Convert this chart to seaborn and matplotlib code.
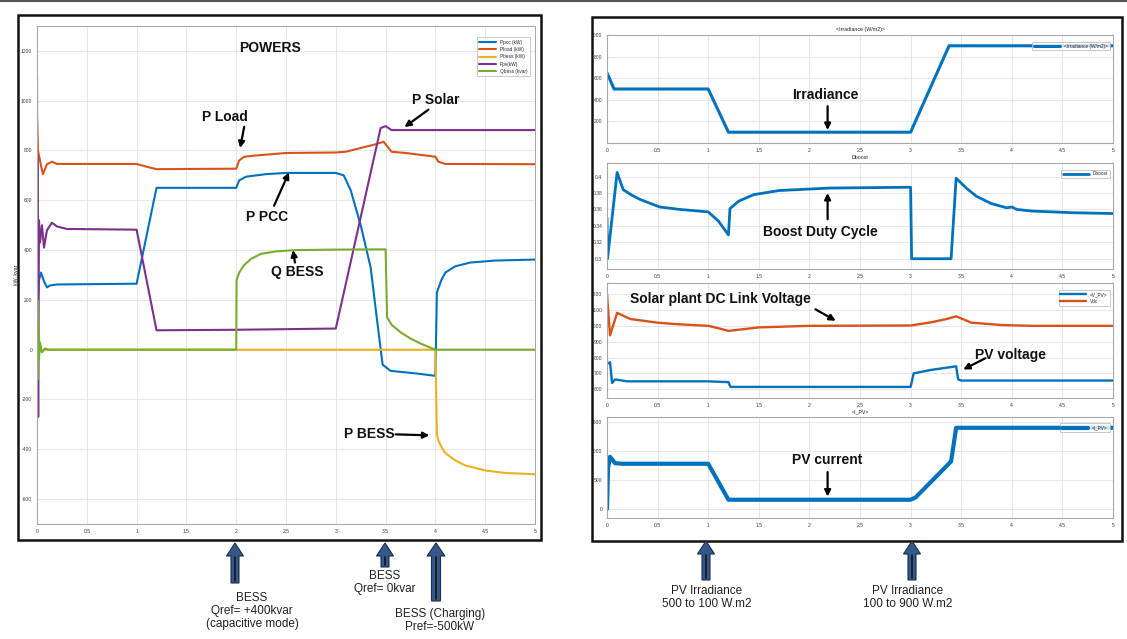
import numpy as np
import pandas as pd
import matplotlib
matplotlib.use("Agg")
import matplotlib.pyplot as plt
import seaborn as sns
from matplotlib.patches import Rectangle, FancyArrow

# ---------------- data: left panel (POWERS) ----------------
t_pcc = [0, 0.004, 0.01, 0.02, 0.04, 0.07, 0.1, 0.13, 0.2, 1.0, 1.2, 2.0, 2.03, 2.1, 2.3, 2.5, 3.0, 3.08,
         3.15, 3.25, 3.35, 3.42, 3.47, 3.55, 3.8, 4.0, 4.015, 4.06, 4.1, 4.2, 4.35, 4.6, 5.0]
p_pcc = [1100, 300, 200, 280, 310, 275, 250, 258, 262, 265, 650, 650, 680, 695, 705, 710, 710, 700,
         640, 500, 330, 100, -60, -85, -95, -105, 230, 280, 310, 335, 350, 358, 362]

t_load = [0, 0.01, 0.04, 0.06, 0.1, 0.15, 0.2, 1.0, 1.1, 1.2, 2.0, 2.03, 2.08, 2.2, 2.5, 3.0, 3.1, 3.2, 3.3,
          3.4, 3.48, 3.52, 3.56, 3.7, 3.9, 4.0, 4.03, 4.1, 5.0]
p_load = [930, 800, 740, 705, 745, 755, 746, 746, 735, 725, 727, 760, 775, 780, 790, 792, 795, 805, 815,
          825, 835, 815, 795, 790, 780, 775, 755, 746, 745]

t_bess = [0, 0.005, 0.01, 0.02, 0.04, 0.08, 4.0, 4.015, 4.03, 4.06, 4.1, 4.2, 4.3, 4.5, 4.7, 5.0]
p_bess = [0, 80, -40, 20, -8, 0, 0, -340, -365, -390, -415, -445, -465, -485, -495, -500]

t_pv = [0, 0.004, 0.012, 0.02, 0.03, 0.05, 0.07, 0.1, 0.15, 0.2, 0.3, 1.0, 1.2, 2.0, 3.0, 3.45, 3.5, 3.56,
        4.0, 5.0]
p_pv = [0, 780, -270, 520, 430, 500, 410, 480, 510, 495, 485, 482, 78, 80, 85, 890, 898, 882, 882, 882]

t_qbess = [0, 0.005, 0.01, 0.015, 0.02, 0.03, 0.05, 0.08, 0.12, 2.0, 2.004, 2.03, 2.08, 2.15, 2.25, 2.4,
           2.6, 3.0, 3.5, 3.515, 3.56, 3.65, 3.75, 3.85, 3.95, 4.0, 5.0]
q_bess = [0, 200, -120, 100, -40, 30, -10, 5, 0, 0, 280, 310, 340, 365, 385, 395, 400, 402, 403, 130,
          100, 70, 45, 25, 8, 0, 0]

power_labels = ["Ppcc (kW)", "Pload (kW)", "Pbess (kW)", "Ppv(kW)", "Qbess (kvar)"]

# ---------------- data: right panels ----------------
t_irr = [0, 0.07, 1.0, 1.2, 3.0, 3.38, 5.0]
irr = [650, 500, 500, 100, 100, 900, 900]

t_dboost = [0, 0.005, 0.1, 0.16, 0.25, 0.33, 0.52, 0.72, 1.0, 1.1, 1.2, 1.215, 1.3, 1.45, 1.7, 2.2, 3.0,
            3.01, 3.4, 3.45, 3.55, 3.65, 3.8, 3.95, 4.0, 4.05, 4.2, 4.6, 5.0]
dboost = [0.35, 0.30, 0.405, 0.384, 0.377, 0.372, 0.363, 0.360, 0.357, 0.346, 0.329, 0.361, 0.370,
          0.378, 0.383, 0.386, 0.387, 0.300, 0.300, 0.398, 0.386, 0.376, 0.367, 0.362, 0.363, 0.360,
          0.358, 0.356, 0.355]

t_vpv = [0, 0.03, 0.05, 0.08, 0.2, 1.0, 1.2, 1.22, 3.0, 3.03, 3.2, 3.4, 3.45, 3.47, 3.5, 5.0]
vpv = [760, 770, 640, 662, 650, 650, 645, 615, 615, 700, 722, 740, 745, 662, 655, 655]

t_vdc = [0, 0.03, 0.1, 0.23, 0.5, 0.7, 1.0, 1.1, 1.2, 1.5, 2.0, 3.0, 3.2, 3.35, 3.45, 3.6, 3.9, 4.2, 5.0]
vdc = [1200, 940, 1082, 1043, 1020, 1010, 1000, 985, 968, 990, 1000, 1002, 1022, 1042, 1060, 1020, 1005,
       1000, 1000]

t_ipv = [0, 0.01, 0.03, 0.08, 0.15, 1.0, 1.2, 3.0, 3.05, 3.4, 3.45, 5.0]
ipv = [0, 700, 900, 790, 780, 780, 160, 160, 200, 820, 1400, 1400]

x_ticks = [0, 0.5, 1, 1.5, 2, 2.5, 3, 3.5, 4, 4.5, 5]

# ---------------- style ----------------
sns.set_style("whitegrid")
plt.rcParams['font.family'] = ['Liberation Sans', 'DejaVu Sans']

W, H = 1127, 639
fig = plt.figure(figsize=(W / 100, H / 100), dpi=100)


def px_axes(x0, y0, x1, y1):
    return fig.add_axes([x0 / W, 1 - y1 / H, (x1 - x0) / W, (y1 - y0) / H])


def style(ax, ylim, yticks):
    ax.set_xlim(0, 5)
    ax.set_ylim(*ylim)
    ax.set_xticks(x_ticks)
    ax.set_xticklabels(["%g" % v for v in x_ticks])
    ax.set_yticks(yticks)
    ax.set_yticklabels(["%g" % v for v in yticks])
    ax.grid(True, color='#e3e3e3', lw=0.6)
    ax.set_facecolor('white')
    for s in ax.spines.values():
        s.set_color('#a8a8a8')
        s.set_linewidth(0.8)
    ax.tick_params(direction='out', length=2, width=0.5, labelsize=3.6, colors='#a0a0a0',
                   labelcolor='#3a3a3a', pad=1.5)
    ax.set_xlabel('')
    ax.set_ylabel('')


def line(ax, t, v, color, lw, label):
    sns.lineplot(x=t, y=v, ax=ax, color=color, linewidth=lw, label=label, estimator=None, sort=False)


BLUE, ORANGE, YELLOW, PURPLE, GREEN = '#0072BD', '#D95319', '#EDB120', '#7E2F8E', '#77AC30'
bold = dict(fontsize=10, fontweight='bold', color='#111111', ha='center', va='center')
arr = dict(arrowstyle='-|>', color='black', lw=1.6, mutation_scale=9, shrinkA=0, shrinkB=0)

# ---------------- left panel ----------------
ax = px_axes(37, 26, 535, 524)
line(ax, t_pcc, p_pcc, BLUE, 1.5, power_labels[0])
line(ax, t_load, p_load, ORANGE, 1.5, power_labels[1])
line(ax, t_bess, p_bess, YELLOW, 1.5, power_labels[2])
line(ax, t_pv, p_pv, PURPLE, 1.5, power_labels[3])
line(ax, t_qbess, q_bess, GREEN, 1.5, power_labels[4])
style(ax, (-700, 1300), [-600, -400, -200, 0, 200, 400, 600, 800, 1000, 1200])
ax.set_ylabel("kW, kvar", fontsize=3.8, labelpad=2)
leg = ax.legend(loc='upper right', bbox_to_anchor=(0.994, 0.982), fontsize=3.4, frameon=True,
                handlelength=3.5, borderpad=0.5, labelspacing=0.5, fancybox=False)
leg.get_frame().set_edgecolor('#b0b0b0')
leg.get_frame().set_linewidth(0.6)

ax.text(2.34, 1212, "POWERS", **bold)
ax.text(1.89, 936, "P Load", **bold)
ax.annotate("", xy=(2.04, 810), xytext=(2.08, 895), arrowprops=arr)
ax.text(4.0, 1004, "P Solar", **bold)
ax.annotate("", xy=(3.69, 894), xytext=(3.93, 964), arrowprops=arr)
ax.text(2.31, 532, "P PCC", **bold)
ax.annotate("", xy=(2.53, 712), xytext=(2.38, 578), arrowprops=arr)
ax.text(2.61, 312, "Q BESS", **bold)
ax.annotate("", xy=(2.57, 400), xytext=(2.59, 350), arrowprops=arr)
ax.text(3.34, -340, "P BESS", **bold)
ax.annotate("", xy=(3.94, -344), xytext=(3.6, -340), arrowprops=arr)

# ---------------- right panels ----------------
ax1 = px_axes(607, 35, 1113, 143)
line(ax1, t_irr, irr, BLUE, 2.2, "<Irradiance (W/m2)>")
style(ax1, (0, 1000), [200, 400, 600, 800, 1000])
ax1.set_title("<Irradiance (W/m2)>", fontsize=3.8, pad=3, color='#222222')
ax1.text(2.16, 442, "Irradiance", **bold)
ax1.annotate("", xy=(2.18, 120), xytext=(2.18, 340), arrowprops=arr)

ax2 = px_axes(607, 163, 1113, 269)
line(ax2, t_dboost, dboost, BLUE, 2.0, "Dboost")
style(ax2, (0.2875, 0.4165), [0.3, 0.32, 0.34, 0.36, 0.38, 0.4])
ax2.set_title("Dboost", fontsize=3.8, pad=3, color='#222222')
ax2.text(2.11, 0.3325, "Boost Duty Cycle", **bold)
ax2.annotate("", xy=(2.18, 0.380), xytext=(2.18, 0.348), arrowprops=arr)

ax3 = px_axes(607, 283, 1113, 398)
line(ax3, t_vpv, vpv, BLUE, 1.7, "<V_PV>")
line(ax3, t_vdc, vdc, ORANGE, 1.7, "Vdc")
style(ax3, (545, 1270), [600, 700, 800, 900, 1000, 1100, 1200])
ax3.text(1.12, 1167, "Solar plant DC Link Voltage", **bold)
ax3.annotate("", xy=(2.26, 1032), xytext=(2.06, 1104), arrowprops=arr)
ax3.text(3.99, 815, "PV voltage", **bold)
ax3.annotate("", xy=(3.52, 725), xytext=(3.74, 796), arrowprops=arr)

ax4 = px_axes(607, 417, 1113, 518)
line(ax4, t_ipv, ipv, BLUE, 3.0, "<I_PV>")
style(ax4, (-155, 1586), [0, 500, 1000, 1500])
ax4.set_title("<I_PV>", fontsize=3.8, pad=3, color='#222222')
ax4.text(2.18, 841, "PV current", **bold)
ax4.annotate("", xy=(2.18, 215), xytext=(2.18, 636), arrowprops=arr)

for a in (ax1, ax2, ax3, ax4):
    lg = a.legend(loc='upper right', fontsize=3.4, frameon=True, handlelength=5.5, borderpad=0.4,
                  labelspacing=0.4, fancybox=False, bbox_to_anchor=(0.998, 0.96))
    lg.get_frame().set_edgecolor('#b0b0b0')
    lg.get_frame().set_linewidth(0.6)

# ---------------- frames ----------------
for (x0, y0, x1, y1) in [(18, 15, 541, 540), (592, 17, 1122, 541)]:
    fig.patches.append(Rectangle((x0 / W, 1 - y1 / H), (x1 - x0) / W, (y1 - y0) / H, fill=False,
                                 edgecolor='#111111', lw=1.8, transform=fig.transFigure))
fig.add_artist(plt.Line2D([0, 1], [1 - 1 / H, 1 - 1 / H], color='#555555', lw=1.5,
                          transform=fig.transFigure))

# ---------------- bottom block arrows & notes ----------------
def block_arrow(xp, ytop, ybot, shaft=8, head=17):
    fig.patches.append(FancyArrow(xp / W, 1 - ybot / H, 0, (ybot - ytop) / H, width=shaft / W,
                                  head_width=head / W, head_length=13 / H,
                                  length_includes_head=True, transform=fig.transFigure,
                                  facecolor='#35588A', edgecolor='#1B2F4E', lw=0.8))
    fig.add_artist(plt.Line2D([xp / W, xp / W], [1 - (ybot - 2) / H, 1 - (ytop + 14) / H],
                              color='#101820', lw=1.2, transform=fig.transFigure))


block_arrow(235, 543, 583)
block_arrow(385, 543, 567)
block_arrow(436, 543, 601, shaft=9, head=18)
block_arrow(706, 541, 580)
block_arrow(912, 541, 580)

note = dict(fontsize=8.5, ha='center', va='top', color='#222222', linespacing=1.1,
            transform=fig.transFigure)
fig.text(252 / W, 1 - 592 / H, "BESS\nQref= +400kvar\n(capacitive mode)", **note)
fig.text(385 / W, 1 - 570 / H, "BESS\nQref= 0kvar", **note)
fig.text(440 / W, 1 - 608 / H, "BESS (Charging)\nPref=-500kW", **note)
fig.text(707 / W, 1 - 585 / H, "PV Irradiance\n500 to 100 W.m2", **note)
fig.text(908 / W, 1 - 585 / H, "PV Irradiance\n100 to 900 W.m2", **note)

fig.savefig("out.png", dpi=100, facecolor='white')
